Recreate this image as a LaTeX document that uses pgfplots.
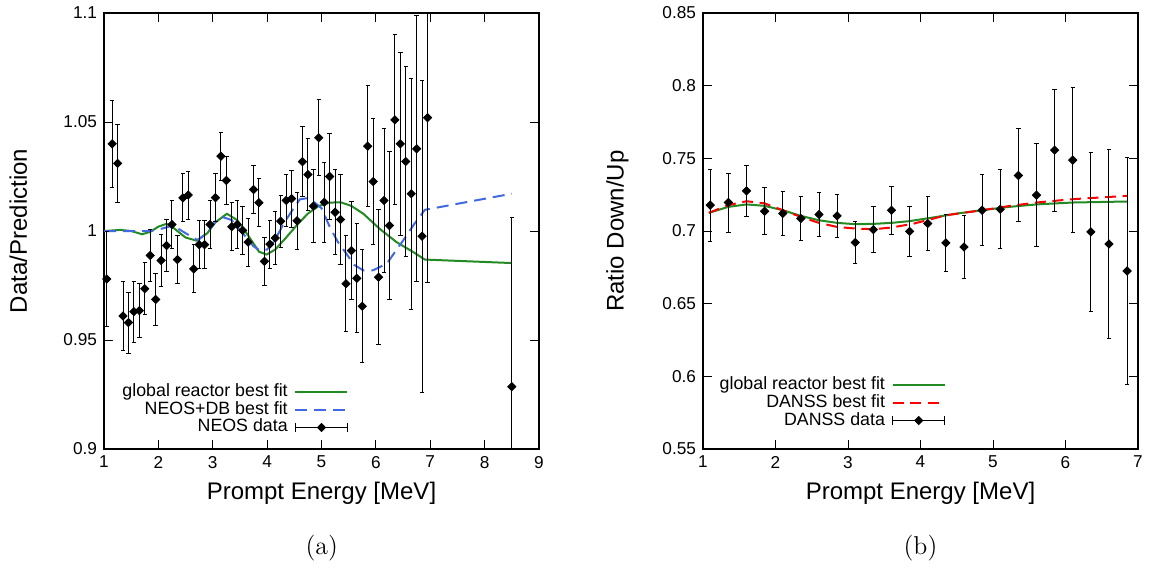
\documentclass[border=0pt]{standalone}
\usepackage{fontspec}
\setsansfont{Liberation Sans}
\usepackage{pgfplots}
\pgfplotsset{compat=1.18}
\definecolor{fgreen}{HTML}{228B22}
\definecolor{rblue}{HTML}{4169E1}
\definecolor{dred}{HTML}{FF0000}

\pgfplotstableread{
x y e
1.05 0.978 0.022
1.15 1.040 0.020
1.25 1.031 0.018
1.35 0.961 0.016
1.45 0.958 0.014
1.55 0.963 0.014
1.65 0.9635 0.0125
1.75 0.9735 0.012
1.85 0.9888 0.012
1.95 0.9686 0.012
2.05 0.9865 0.012
2.15 0.9933 0.012
2.25 1.003 0.011
2.35 0.9869 0.011
2.45 1.0152 0.011
2.55 1.0165 0.011
2.65 0.9826 0.011
2.75 0.9937 0.011
2.85 0.9937 0.011
2.95 1.003 0.011
3.05 1.0153 0.011
3.15 1.0343 0.011
3.25 1.0232 0.011
3.35 1.002 0.011
3.45 1.003 0.011
3.55 1.0003 0.011
3.65 0.9949 0.011
3.75 1.019 0.011
3.85 1.013 0.011
3.95 0.9861 0.011
4.05 0.994 0.011
4.15 0.9968 0.012
4.25 1.0045 0.012
4.35 1.014 0.012
4.45 1.0148 0.013
4.55 1.0047 0.013
4.65 1.0318 0.016
4.75 1.0259 0.0164
4.85 1.0114 0.0166
4.95 1.0428 0.0174
5.05 1.0132 0.0184
5.15 1.025 0.0196
5.25 1.0086 0.0196
5.35 1.0053 0.0207
5.45 0.9758 0.022
5.55 0.991 0.0225
5.65 0.9783 0.025
5.75 0.9655 0.026
5.85 1.0389 0.0278
5.95 1.0227 0.029
6.05 0.9788 0.031
6.15 1.014 0.033
6.25 1.0025 0.034
6.35 1.051 0.039
6.45 1.040 0.042
6.55 1.0319 0.0435
6.65 1.0171 0.053
6.75 1.0377 0.061
6.85 0.9976 0.0715
6.95 1.052 0.0755
8.5 0.9286 0.0776
}\neosdata

\pgfplotstableread{
x y
1.0 1.000
1.3 1.0005
1.5 1.0
1.7 0.9985
1.85 0.9996
2.0 1.002
2.15 1.0033
2.3 1.001
2.5 0.997
2.7 0.9956
2.9 0.999
3.05 1.004
3.26 1.0079
3.45 1.005
3.65 0.998
3.85 0.9905
3.99 0.9892
4.15 0.9915
4.35 0.997
4.54 1.0025
4.75 1.008
4.95 1.0115
5.15 1.013
5.35 1.0132
5.55 1.0115
5.77 1.0079
6.07 1.001
6.38 0.9949
6.69 0.9903
6.9 0.9869
8.5 0.9853
}\neosglobal

\pgfplotstableread{
x y
1.0 1.0
1.5 1.0
1.85 1.0
2.05 1.001
2.27 1.0025
2.5 0.999
2.72 0.9958
2.9 0.999
3.05 1.0045
3.18 1.0064
3.35 1.005
3.55 0.999
3.75 0.993
3.87 0.991
4.0 0.9915
4.15 0.996
4.3 1.0033
4.45 1.009
4.6 1.0145
4.72 1.015
4.85 1.0135
5.0 1.0105
5.15 1.002
5.3 0.995
5.46 0.9895
5.6 0.9845
5.77 0.9819
5.95 0.982
6.2 0.985
6.5 0.9956
6.7 1.003
6.9 1.0097
8.5 1.0171
}\neosdb

\pgfplotstableread{
x y e
1.10 0.7178 0.0248
1.35 0.7196 0.0203
1.60 0.7276 0.0177
1.85 0.7136 0.0163
2.10 0.7121 0.0150
2.35 0.7086 0.0150
2.60 0.7114 0.0150
2.85 0.7104 0.0150
3.10 0.6921 0.0146
3.35 0.7010 0.0157
3.60 0.7143 0.0166
3.85 0.6997 0.0173
4.10 0.7052 0.0188
4.35 0.6918 0.0198
4.60 0.6890 0.0215
4.85 0.7143 0.0243
5.10 0.7150 0.0270
5.35 0.7382 0.0320
5.60 0.7247 0.0353
5.85 0.7557 0.0420
6.10 0.7488 0.0500
6.35 0.6994 0.0547
6.60 0.6911 0.0650
6.85 0.6725 0.0780
}\danssdata

\pgfplotstableread{
x y
1.08 0.7125
1.35 0.7166
1.6 0.7183
1.85 0.7173
2.1 0.7143
2.35 0.7104
2.6 0.7074
2.85 0.7056
3.1 0.7047
3.35 0.7049
3.6 0.7056
3.85 0.7068
4.2 0.7095
4.5 0.712
4.85 0.7143
5.2 0.7165
5.6 0.7183
6.1 0.7196
6.85 0.7203
}\danssglobal

\pgfplotstableread{
x y
1.08 0.7125
1.35 0.7178
1.6 0.7205
1.85 0.719
2.1 0.7143
2.35 0.7097
2.6 0.7056
2.85 0.7028
3.1 0.7017
3.35 0.7012
3.6 0.7024
3.9 0.705
4.36 0.7109
4.85 0.7143
5.2 0.717
5.6 0.7196
6.1 0.7219
6.85 0.7242
}\dansfit

\pgfplotsset{
  myaxis/.style={
    scale only axis, width=217.5pt, height=218pt,
    axis line style={line width=0.7pt},
    tick align=inside,
    major tick length=4.5pt,
    tick style={black, line width=0.4pt},
    /pgf/number format/assume math mode=true,
    tick label style={font=\sffamily\fontsize{8.6}{10}\selectfont},
    xlabel={Prompt Energy [MeV]},
    every axis x label/.style={at={(axis description cs:0.5,-0.1016)},anchor=center,
      font=\sffamily\fontsize{12}{14}\selectfont},
    every axis y label/.style={at={(axis description cs:-0.197,0.5)},rotate=90,anchor=center,
      font=\sffamily\fontsize{12}{14}\selectfont},
    legend plot pos=right,
    legend cell align=right,
    legend style={draw=none, fill=none, inner sep=0pt, row sep=0pt, column sep=3pt,
      font=\sffamily\fontsize{8.9}{9}\selectfont,
      nodes={text height=6.3pt, text depth=1.8pt, inner sep=0.4pt}},
    legend image code/.code={\draw[##1] (0pt,0pt) -- (26pt,0pt);},
  },
  datalegend/.style={legend image code/.code={
    \draw[black, line width=0.5pt] (0pt,0pt) -- (26pt,0pt);
    \draw[black, line width=0.5pt] (0pt,-2.2pt) -- (0pt,2.2pt);
    \draw[black, line width=0.5pt] (26pt,-2.2pt) -- (26pt,2.2pt);
    \fill[black] (13pt,2pt) -- (15pt,0pt) -- (13pt,-2pt) -- (11pt,0pt) -- cycle;}},
  datastyle/.style={black, only marks, mark=square*, mark size=1.45pt,
    mark options={rotate=45},
    error bars/.cd, y dir=both, y explicit,
    error bar style={line width=0.5pt, black},
    error mark=-,
    error mark options={rotate=90, mark size=1.1pt, line width=0.5pt, black}},
}

\begin{document}
\begin{tikzpicture}
\path[use as bounding box] (0pt,0pt) rectangle (575.5pt,284.5pt);

\begin{axis}[myaxis, at={(52pt,60pt)}, anchor=south west,
  xmin=1, xmax=9, ymin=0.9, ymax=1.1,
  xtick={1,2,3,4,5,6,7,8,9},
  ytick={0.9,0.95,1,1.05,1.1},
  yticklabels={0.9,0.95,1,1.05,1.1},
  ylabel={Data/Prediction},
  legend style={at={(axis description cs:0.563,0.028)}, anchor=south east},
]
\addplot[fgreen, line width=1pt, no marks] table[x=x,y=y] {\neosglobal};
\addlegendentry{global reactor best fit}
\addplot[rblue, line width=1pt, no marks, dash pattern=on 6pt off 3.5pt] table[x=x,y=y] {\neosdb};
\addlegendentry{NEOS+DB best fit}
\addplot[datalegend, datastyle] table[x=x,y=y,y error=e] {\neosdata};
\addlegendentry{NEOS data}
\end{axis}

\begin{axis}[myaxis, at={(351.5pt,60pt)}, anchor=south west,
  xmin=1, xmax=7, ymin=0.55, ymax=0.85,
  xtick={1,2,3,4,5,6,7},
  ytick={0.55,0.6,0.65,0.7,0.75,0.8,0.85},
  yticklabels={0.55,0.6,0.65,0.7,0.75,0.8,0.85},
  ylabel={Ratio Down/Up},
  legend style={at={(axis description cs:0.559,0.044)}, anchor=south east},
]
\addplot[fgreen, line width=1pt, no marks] table[x=x,y=y] {\danssglobal};
\addlegendentry{global reactor best fit}
\addplot[dred, line width=1pt, no marks, dash pattern=on 5.5pt off 3.3pt] table[x=x,y=y] {\dansfit};
\addlegendentry{DANSS best fit}
\addplot[datalegend, datastyle] table[x=x,y=y,y error=e] {\danssdata};
\addlegendentry{DANSS data}
\end{axis}

\node[font=\fontsize{12.9}{15}\selectfont] at (160.85pt,10.5pt) {(a)};
\node[font=\fontsize{12.9}{15}\selectfont] at (460.25pt,10.5pt) {(b)};
\end{tikzpicture}
\end{document}
